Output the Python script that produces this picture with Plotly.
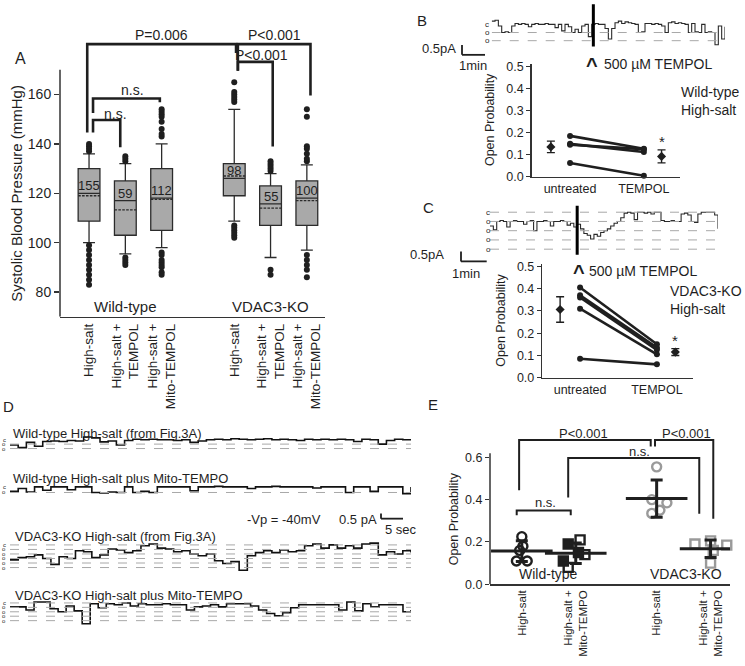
import numpy as np
import plotly.graph_objects as go

W, H = 745, 666
FONT = "Liberation Sans, Arial, sans-serif"
INK = "#1f1f1f"
GRAY = "#9a9a9a"
DASH = "#a8a8a8"

# ======================= DATA =======================
# Panel A : systolic blood pressure (box statistics)
A_labels = ["High-salt", "High-salt +<br>TEMPOL", "High-salt +<br>Mito-TEMPOL",
            "High-salt", "High-salt +<br>TEMPOL", "High-salt +<br>Mito-TEMPOL"]
A_genotypes = ["Wild-type", "VDAC3-KO"]
A_n = [155, 59, 112, 98, 55, 100]
A_q1 = [108.7, 103.0, 105.0, 119.0, 107.0, 107.0]
A_median = [120.0, 117.0, 118.0, 126.0, 115.7, 118.0]
A_q3 = [130.0, 125.0, 130.0, 132.0, 123.0, 125.0]
A_lower = [100.0, 95.5, 98.0, 108.7, 94.0, 97.0]
A_upper = [136.0, 132.0, 140.0, 154.0, 128.0, 131.5]
A_mean = [119.0, 113.3, 117.5, 127.0, 114.0, 117.0]
A_out_high = [[137, 138, 139, 140], [133, 134, 135],
              [143, 144, 146, 149, 151, 152, 153, 154],
              [157, 158, 159, 160, 161, 165], [129, 130, 131, 132, 133],
              [133, 134, 136, 138, 139, 151, 154]]
A_out_low = [[99, 97, 95, 93, 91, 89, 87, 85, 83], [94, 93, 92, 91],
             [96, 95, 93, 92, 91, 90, 88, 87], [107, 106, 105, 104, 103, 102],
             [89, 87], [95, 93, 91, 89, 86]]
A_yticks = [80, 100, 120, 140, 160]
A_ptext = ["P=0.006", "P<0.001", "P<0.001", "n.s.", "n.s."]

# Panels B and C : open probability before / after TEMPOL
PAIR_conditions = ["untreated", "TEMPOL"]
B_untreated = [0.185, 0.149, 0.145, 0.062]
B_tempol = [0.127, 0.112, 0.125, 0.005]
C_untreated = [0.405, 0.370, 0.360, 0.310, 0.085]
C_tempol = [0.150, 0.135, 0.125, 0.105, 0.060]
PO_ticks = [0.0, 0.1, 0.2, 0.3, 0.4, 0.5]

# single-channel recordings (current level, in channel-opening units)
B_trace = [0.4, 0.5, -0.2, -1.0, -0.9, -1.0, -0.2, 0.1, 0.0, 0.1, 0.0, -0.3, 0.0, 0.1,
           0.0, 0.0, 0.1, 0.0, 0.0, -0.4, 0.0, -0.8, 0.0, -0.3, -1.0, -0.6, -1.0, -0.2,
           0.0, -1.5, 0.0, 0.1, 0.0, 0.0, -0.5, -1.8, -0.5, 0.2, 0.4, 0.1, 0.3, 0.2,
           0.1, 0.0, -1.0, -0.9, 0.1, 0.1, 0.0, 0.1, 0.0, -0.2, -1.0, 0.2, 0.3, 0.1,
           0.2, 0.1, 0.0, -1.0, 0.1, -0.9, -1.0, 0.0, -1.0, -0.9, -1.0, -2.5, -0.2,
           -1.8, -0.3]
B_levels = [0, -1, -2]
B_level_names = ["c", "o", "o"]
B_tempol_at = 30.5
C_trace = [-1.5, -1.9, -1.0, -0.9, -1.0, -1.6, -1.0, -0.9, -1.0, -1.0, -1.3, -1.0,
           -0.9, -2.0, -1.0, -1.0, -0.9, -1.0, -1.5, -1.0, -1.0, -0.9, -1.0, -1.4,
           -1.2, -1.6, -1.3, -1.8, -2.3, -2.5, -2.9, -2.4, -2.6, -2.2, -2.0, -1.8,
           -1.5, -1.2, -1.0, -0.6, -0.1, 0.0, -0.1, -0.8, 0.0, 0.0, -0.1, 0.0, -0.2,
           0.0, 0.0, -0.9, -1.0, -1.0, -0.9, -1.0, -1.0, -0.2, -0.1, -0.3, -1.0,
           -1.1, -0.2, 0.0, 0.0, 0.0, 0.0, -0.3, -1.8]
C_levels = [0, -1, -2, -3, -4]
C_level_names = ["c", "o", "o", "o", "o"]
C_tempol_at = 26

# Panel D : recordings at -Vp = -40 mV
D_titles = ["Wild-type High-salt (from Fig.3A)", "Wild-type High-salt plus Mito-TEMPO",
            "VDAC3-KO High-salt (from Fig.3A)", "VDAC3-KO High-salt plus Mito-TEMPO"]
D_trace1 = [-1.2, -1.8, -0.6, -1.5, -0.4, -0.3, -0.4, -0.2, -0.3, 0.6, 0.4, -0.5, -0.3,
            -1.2, -0.2, 0.1, 0.0, 0.1, 0.0, 0.0, -0.2, 0.0, -0.6, -0.3, 0.0, 0.1, 0.0,
            0.2, 0.1, 0.0, 0.1, 0.2, 0.0, 0.1, 0.0, -0.2, 0.1, 0.0, 0.1, 0.0, 0.1, 0.0,
            -0.4, 0.1, 0.0, -1.0, -0.2, 0.1, 0.0, 0.1]
D_trace2 = [-0.8, -0.3, -0.9, 0.0, -0.6, 0.0, 0.0, -0.5, 0.0, 0.0, -1.0, -1.1, -0.9,
            -1.0, 0.0, -1.0, -0.8, -1.0, 0.0, 0.0, 0.0, 0.0, -0.7, 0.0, 0.0, 0.1, 0.0,
            0.0, 0.0, -0.3, 0.0, 0.0, 0.1, 0.0, 0.0, 0.0, 0.0, -0.2, 0.0, 0.0, 0.0,
            -1.0, 0.0, 0.0, -0.8, 0.0, 0.0, 0.0, -1.2, 0.0]
D_trace3 = [-3.3, -2.8, -2.6, -2.2, -3.0, -4.3, -2.6, -3.0, -1.3, -1.5, -2.8, -2.2,
            -0.9, -1.1, -1.7, -1.3, -0.2, 0.2, -0.7, -0.9, -1.5, -1.3, -2.0, -2.4,
            -2.0, -3.5, -4.1, -3.7, -5.6, -2.4, -1.7, -1.3, -1.7, -1.1, -1.5, -1.3,
            -0.2, 0.2, -0.7, 0.0, -0.7, -0.2, -0.7, 0.2, 0.4, -2.2, -1.5, -2.0, -1.3,
            -1.7]
D_trace4 = [-0.9, -0.9, -1.6, 0.2, 0.2, -1.3, -2.0, -0.7, -1.8, -4.7, -0.2, -1.1,
            -0.2, -0.4, 0.0, -0.7, -0.2, -0.4, -0.4, -0.2, -0.4, -0.4, -1.6, -0.9,
            -0.7, -0.4, -0.9, -0.2, -0.2, -0.2, -0.7, -1.6, -2.4, -2.9, -2.2, -1.1,
            -0.4, -0.4, -0.4, -0.4, -0.4, -1.6, 0.2, -1.8, -0.2, -0.9, -0.4, -0.4,
            -0.4, -2.0, -1.6]
D_levels = [[-1, -2], [-1], [0, -1, -2, -3, -4, -5], [0, -1, -2, -3, -4]]
D_level_counts = [3, 2, 6, 5]

# Panel E : open probability with Mito-TEMPO
E_labels = ["High-salt", "High-salt +<br>Mito-TEMPO", "High-salt", "High-salt +<br>Mito-TEMPO"]
E_genotypes = ["Wild-type", "VDAC3-KO"]
E_wt_hs = [0.225, 0.180, 0.160, 0.110, 0.110]
E_wt_mito = [0.210, 0.190, 0.150, 0.140, 0.110, 0.080]
E_ko_hs = [0.555, 0.400, 0.385, 0.350, 0.335]
E_ko_mito = [0.190, 0.185, 0.205, 0.100, 0.160]
E_ptext = ["P<0.001", "P<0.001", "n.s.", "n.s."]
E_yticks = [0.0, 0.2, 0.4, 0.6]

# ======================= LAYOUT HELPERS =======================
def dx(x0, x1):
    return [x0 / W, x1 / W]


def dy(top, bot):
    return [1 - bot / H, 1 - top / H]


def px(x):
    return x / W


def py(y):
    return 1 - y / H


font = dict(family=FONT, color=INK)
fig = go.Figure()
shapes, annos = [], []


def text(x, y, s, size=13, xanchor="center", yanchor="middle", xref="paper", yref="paper",
         angle=0, color=INK, **kw):
    annos.append(dict(x=x, y=y, text=s, xref=xref, yref=yref, showarrow=False,
                      xanchor=xanchor, yanchor=yanchor, textangle=angle, borderpad=0,
                      font=dict(family=FONT, size=size, color=color), **kw))


def bracket(xa, ya, x1, x2, top, yl, yr, width):
    fig.add_trace(go.Scatter(x=[x1, x1, x2, x2], y=[yl, top, top, yr], mode="lines",
                             line=dict(color=INK, width=width), xaxis=xa, yaxis=ya,
                             hoverinfo="skip", showlegend=False))


# ---------------- Panel A ----------------
A_XPOS = [1, 2, 3, 5, 6, 7]
A_XR = [0.2, 7.5]
A_YR = [70, 187.1]
for i, xp in enumerate(A_XPOS):
    fig.add_trace(go.Box(x=[xp], q1=[A_q1[i]], median=[A_median[i]], q3=[A_q3[i]],
                         lowerfence=[A_lower[i]], upperfence=[A_upper[i]], mean=[A_mean[i]],
                         boxmean=True, boxpoints=False, width=0.6, whiskerwidth=0.55,
                         fillcolor="#a9a9a9", line=dict(color="#2b2b2b", width=1.3),
                         xaxis="x", yaxis="y", showlegend=False, hoverinfo="skip"))
    outs = A_out_high[i] + A_out_low[i]
    fig.add_trace(go.Scatter(x=[xp] * len(outs), y=outs, mode="markers",
                             marker=dict(color=INK, size=6), xaxis="x", yaxis="y",
                             showlegend=False, hoverinfo="skip", cliponaxis=False))
    text(xp, A_median[i], str(A_n[i]), size=13, xref="x", yref="y", yanchor="bottom",
         yshift=-1)

A_BR = [(0.95, 5.05, 180.4, 144.6, 176.8, 3.0, 184.2),
        (5.10, 7.10, 180.4, 169.6, 159.6, 6.1, 184.2),
        (5.10, 6.06, 173.2, 169.6, 138.9, 5.76, 176.0),
        (1.11, 2.95, 158.4, 152.5, 156.9, 2.2, 161.8),
        (1.11, 1.86, 149.7, 144.6, 138.6, 1.72, 152.0)]
for (x1, x2, top, yl, yr, lx, ly), lab in zip(A_BR, A_ptext):
    bracket("x", "y", x1, x2, top, yl, yr, 2.6)
    text(lx, ly, lab, size=14, xref="x", yref="y")

text(2, 70, A_genotypes[0], size=15, xref="x", yref="y", yanchor="bottom", yshift=1)
text(6, 70, A_genotypes[1], size=15, xref="x", yref="y", yanchor="bottom", yshift=1)
shapes.append(dict(type="line", xref="paper", yref="y", x0=px(60), x1=px(60), y0=70, y1=170,
                   line=dict(color="#333", width=1.5)))
text(px(17), py(193), "Systolic Blood Pressure (mmHg)", size=15, angle=-90)
text(px(20), py(55), "A", size=16)

# ---------------- Panels B / C (paired plots) ----------------
MEAN_DX = (-0.26, 0.24)


def paired(xa, ya, untr, tempo):
    for u, t in zip(untr, tempo):
        fig.add_trace(go.Scatter(x=[1, 2], y=[u, t], mode="lines+markers",
                                 line=dict(color=INK, width=2.6), marker=dict(color=INK, size=6),
                                 xaxis=xa, yaxis=ya, showlegend=False, hoverinfo="skip",
                                 cliponaxis=False))
    means = [np.mean(untr), np.mean(tempo)]
    sems = [np.std(untr, ddof=1) / np.sqrt(len(untr)), np.std(tempo, ddof=1) / np.sqrt(len(tempo))]
    fig.add_trace(go.Scatter(x=[1 + MEAN_DX[0], 2 + MEAN_DX[1]], y=means, mode="markers",
                             marker=dict(color=INK, size=7, symbol="diamond"),
                             error_y=dict(type="data", array=sems, width=4, thickness=1.4, color=INK),
                             xaxis=xa, yaxis=ya, showlegend=False, hoverinfo="skip"))
    text(2 + MEAN_DX[1], means[1] + sems[1], "*", size=15, xref=xa, yref=ya,
         yanchor="bottom", yshift=-1)


paired("x2", "y2", B_untreated, B_tempol)
paired("x3", "y3", C_untreated, C_tempol)
text(px(741), py(98.5), "Wild-type<br>High-salt", size=14, xanchor="right", align="left")
text(px(743), py(301), "VDAC3-KO<br>High-salt", size=14, xanchor="right", align="left")
text(px(490), py(118), "Open Probability", size=12.5, angle=-90)
text(px(501), py(322), "Open Probability", size=12.5, angle=-90)
text(px(422), py(17), "B", size=15)
text(px(428), py(207), "C", size=15)


def recording(xa, ya, values, levels, names, tempol_at=None, bar=None, lab_x=None,
              width=1.1, color="#2a2a2a", label_size=8):
    n = len(values)
    fig.add_trace(go.Scatter(x=list(range(n)), y=values, mode="lines",
                             line=dict(color=color, width=width, shape="hv"),
                             xaxis=xa, yaxis=ya, showlegend=False, hoverinfo="skip"))
    for lv in levels:
        shapes.append(dict(type="line", xref=xa, yref=ya, x0=0, x1=n - 1, y0=lv, y1=lv,
                           line=dict(color=DASH, width=1, dash="dash")))
    for lv, nm in zip(range(0, -len(names), -1), names):
        text(px(lab_x), lv, nm, size=label_size, yref=ya, xanchor="center")
    if tempol_at is not None:
        shapes.append(dict(type="line", xref=xa, yref=ya, x0=tempol_at, x1=tempol_at,
                           y0=bar[0], y1=bar[1], line=dict(color="black", width=3)))


recording("x5", "y5", B_trace, B_levels[1:], B_level_names, B_tempol_at, (2.45, -2.7), 487)
recording("x6", "y6", C_trace, C_levels, C_level_names, C_tempol_at, (0.7, -4.6), 488)

# scale bars & TEMPOL marks
for (tx, ty, bx, btop, bbot, bright, mx, my) in [(457, 45, 462, 41.7, 51.7, 485, 473, 63),
                                                  (445, 255, 461, 251.7, 261.7, 486.7, 466, 274)]:
    text(px(tx), py(ty), "0.5pA", size=13, xanchor="right")
    shapes.append(dict(type="line", xref="paper", yref="paper", x0=px(bx), x1=px(bx),
                       y0=py(btop), y1=py(bbot), line=dict(color=INK, width=1.8)))
    shapes.append(dict(type="line", xref="paper", yref="paper", x0=px(bx), x1=px(bright),
                       y0=py(bbot), y1=py(bbot), line=dict(color=INK, width=1.8)))
    text(px(mx), py(my), "1min", size=13)
for (ax_, ay_, tx) in [(592, 62, 603), (579, 272, 588)]:
    text(px(ax_), py(ay_), "<b>^</b>", size=20)
    text(px(tx), py(ay_ - 1), "500 µM TEMPOL", size=14, xanchor="left")

# ---------------- Panel D ----------------
D_GEOM = [(443, 4.5, 437, 457), (491, 5.7, 486, 500), (550, 4.6, 545, 580), (609, 4.5, 604, 633)]
D_TITLE_Y = [436.7, 482.7, 541.7, 601]
D_TITLE_X = [12, 12, 14, 14]
d_traces = [D_trace1, D_trace2, D_trace3, D_trace4]
for k in range(4):
    xa, ya = "x%d" % (7 + k), "y%d" % (7 + k)
    recording(xa, ya, d_traces[k], D_levels[k], ["c"] + ["o"] * (D_level_counts[k] - 1),
              lab_x=4, width=1.6, color="#111", label_size=6)
    text(px(D_TITLE_X[k]), py(D_TITLE_Y[k]), D_titles[k], size=13, xanchor="left")
text(px(284), py(524), "-Vp = -40mV", size=13)
text(px(378), py(524), "0.5 pA", size=13, xanchor="right")
shapes.append(dict(type="line", xref="paper", yref="paper", x0=px(381), x1=px(381),
                   y0=py(518), y1=py(523.3), line=dict(color=INK, width=1.8)))
shapes.append(dict(type="line", xref="paper", yref="paper", x0=px(381), x1=px(403),
                   y0=py(523.3), y1=py(523.3), line=dict(color=INK, width=1.8)))
text(px(401), py(534), "5 sec", size=13)
text(px(8), py(409), "D", size=15)

# ---------------- Panel E ----------------
E_XPOS = [1, 2, 3.5, 4.5]
E_JIT = [[0.0, 0.02, -0.04, -0.1, 0.1],
         [0.08, -0.14, 0.05, 0.17, -0.23, -0.14],
         [0.0, -0.09, 0.19, 0.06, -0.09],
         [-0.29, 0.3, 0.0, 0.0, 0.05]]
E_SYM = [["circle-open"] * 5,
         ["square-open", "square", "square", "square-open", "square", "square-open"],
         ["circle-open"] * 5,
         ["square-open"] * 5]
E_COL = [INK, INK, GRAY, GRAY]
E_sets = [E_wt_hs, E_wt_mito, E_ko_hs, E_ko_mito]
for k, vals in enumerate(E_sets):
    fig.add_trace(go.Scatter(x=[E_XPOS[k] + j for j in E_JIT[k]], y=vals, mode="markers",
                             marker=dict(symbol=E_SYM[k], size=9, color=E_COL[k],
                                         line=dict(color=E_COL[k], width=2.4)),
                             xaxis="x4", yaxis="y4", showlegend=False, hoverinfo="skip",
                             cliponaxis=False))
    m = float(np.mean(vals))
    sd = float(np.std(vals, ddof=1))
    fig.add_trace(go.Scatter(x=[E_XPOS[k]], y=[m], mode="markers",
                             marker=dict(symbol="line-ew-open", size=44, color=INK,
                                         line=dict(color=INK, width=3)),
                             error_y=dict(type="data", array=[sd], width=6, thickness=3, color=INK),
                             xaxis="x4", yaxis="y4", showlegend=False, hoverinfo="skip"))

E_BR = [(0.95, 3.39, 0.682, 0.445, 0.651, 2.14, 0.713),
        (3.47, 4.55, 0.682, 0.651, 0.310, 4.06, 0.713),
        (1.86, 4.29, 0.597, 0.410, 0.333, 3.19, 0.628),
        (0.905, 1.907, 0.349, 0.326, 0.326, 1.43, 0.387)]
for (x1, x2, top, yl, yr, lx, ly), lab in zip(E_BR, E_ptext):
    bracket("x4", "y4", x1, x2, top, yl, yr, 2.0)
    text(lx, ly, lab, size=13, xref="x4", yref="y4")
text(1.5, 0.0, E_genotypes[0], size=14, xref="x4", yref="y4", yanchor="bottom", yshift=1)
text(4.05, 0.0, E_genotypes[1], size=14, xref="x4", yref="y4", yanchor="bottom", yshift=1)
shapes.append(dict(type="line", xref="paper", yref="y4", x0=px(490), x1=px(490), y0=0, y1=0.62,
                   line=dict(color="#333", width=1.5)))
text(px(454), py(524), "Open Probability", size=12.5, angle=-90)
text(px(433), py(407), "E", size=15)

# ======================= AXES =======================
tickfont = dict(family=FONT, size=14, color=INK)
small = dict(family=FONT, size=12.5, color=INK)
hidden = dict(visible=False, showgrid=False, zeroline=False)

layout_axes = dict(
    xaxis=dict(domain=dx(60, 325), range=A_XR, anchor="y", showline=True, linecolor="#333",
               linewidth=1.5, ticks="", tickvals=A_XPOS, ticktext=A_labels, tickangle=-90,
               tickfont=dict(family=FONT, size=13.5, color=INK), showgrid=False, zeroline=False),
    yaxis=dict(domain=dy(24, 318), range=A_YR, anchor="x", showline=False, ticks="outside",
               ticklen=5, tickwidth=1.5, tickcolor="#333", tickvals=A_yticks, tickfont=tickfont,
               showgrid=False, zeroline=False),
    xaxis2=dict(domain=dx(531.7, 680), range=[0.48, 2.49], anchor="y2", showline=True,
                linecolor="#333", linewidth=1.5, ticks="", tickvals=[1, 2],
                ticktext=PAIR_conditions, tickfont=small, showgrid=False, zeroline=False),
    yaxis2=dict(domain=dy(61, 175.7), range=[0, 0.51], anchor="x2", showline=True,
                linecolor="#333", linewidth=1.5, ticks="outside", ticklen=4, tickcolor="#333",
                tickvals=PO_ticks, tickformat=".1f", tickfont=small, showgrid=False,
                zeroline=False),
    xaxis3=dict(domain=dx(542.3, 693), range=[0.508, 2.47], anchor="y3", showline=True,
                linecolor="#333", linewidth=1.5, ticks="", tickvals=[1, 2],
                ticktext=PAIR_conditions, tickfont=small, showgrid=False, zeroline=False),
    yaxis3=dict(domain=dy(264, 380), range=[0, 0.512], anchor="x3", showline=True,
                linecolor="#333", linewidth=1.5, ticks="outside", ticklen=4, tickcolor="#333",
                tickvals=PO_ticks, tickformat=".1f", tickfont=small, showgrid=False,
                zeroline=False),
    xaxis4=dict(domain=dx(490, 730), range=[0.41, 4.86], anchor="y4", showline=True,
                linecolor="#333", linewidth=1.5, ticks="", tickvals=E_XPOS, ticktext=E_labels,
                tickangle=-90, tickfont=dict(family=FONT, size=11.5, color=INK),
                showgrid=False, zeroline=False),
    yaxis4=dict(domain=dy(430, 590), range=[0, 0.744], anchor="x4", showline=False,
                ticks="outside", ticklen=4, tickcolor="#333", tickvals=E_yticks,
                tickformat=".1f", tickfont=small, showgrid=False, zeroline=False),
    xaxis5=dict(domain=dx(491.7, 725), range=[0, len(B_trace) - 1], anchor="y5", **hidden),
    yaxis5=dict(domain=dy(0, 46), range=[-(46 - 20.7) / 8.3, 20.7 / 8.3], anchor="x5", **hidden),
    xaxis6=dict(domain=dx(490, 718), range=[0, len(C_trace) - 1], anchor="y6", **hidden),
    yaxis6=dict(domain=dy(200, 258), range=[-(258 - 211.7) / 9.4, (211.7 - 200) / 9.4],
                anchor="x6", **hidden),
)
for k, (zero, ppl, top, bot) in enumerate(D_GEOM):
    layout_axes["xaxis%d" % (7 + k)] = dict(domain=dx(10, 411), range=[0, len(d_traces[k]) - 1],
                                             anchor="y%d" % (7 + k), **hidden)
    layout_axes["yaxis%d" % (7 + k)] = dict(domain=dy(top, bot),
                                             range=[-(bot - zero) / ppl, (zero - top) / ppl],
                                             anchor="x%d" % (7 + k), **hidden)

fig.update_layout(width=W, height=H, margin=dict(l=0, r=0, t=0, b=0),
                  paper_bgcolor="white", plot_bgcolor="white", showlegend=False,
                  font=font, boxmode="overlay", shapes=shapes, annotations=annos,
                  hovermode=False, **layout_axes)

fig.write_html("out.html", config={"displayModeBar": False, "staticPlot": True},
               post_script="document.body.style.margin='0px';"
                           "document.body.style.overflow='hidden';")
